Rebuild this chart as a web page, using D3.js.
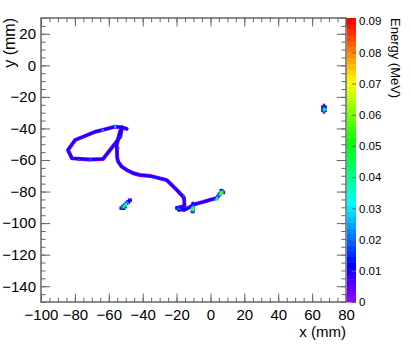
<!DOCTYPE html>
<html>
<head>
<meta charset="utf-8">
<script src="https://cdnjs.cloudflare.com/ajax/libs/d3/7.8.5/d3.min.js"></script>
<style>
  body { margin: 0; background: #fff; }
  svg { display: block; font-family: "Liberation Sans", Arial, Helvetica, sans-serif; }
</style>
</head>
<body>
<div id="plot"></div>
<script>
// Axis ticks
const xTicks = [-100, -80, -60, -40, -20, 0, 20, 40, 60, 80];
const yTicks = [-140, -120, -100, -80, -60, -40, -20, 0, 20];
const zTicks = [0, 0.01, 0.02, 0.03, 0.04, 0.05, 0.06, 0.07, 0.08, 0.09];
const zMax = 0.091;     // histogram maximum (MeV)
const nColors = 50;     // ROOT pretty palette

// Track path (mm)
const loopTrack = [
  [-49.4, -40.3], [-52.2, -39.3], [-56.2, -38.9], [-64.0, -41.0], [-68.0, -42.1],
  [-79.8, -47.3], [-84.1, -53.7], [-82.7, -56.8], [-81.7, -59.0], [-71.1, -59.7],
  [-63.4, -59.4], [-60.0, -54.7], [-56.1, -49.4], [-53.2, -45.2], [-52.2, -39.3]
];
const stemTrack = [
  [-52.2, -39.3], [-53.4, -42.2], [-54.4, -46.2], [-55.3, -50.5], [-55.0, -58.9],
  [-54.4, -61.1], [-52.4, -64.2], [-49.4, -66.3], [-45.5, -68.4], [-41.6, -69.5],
  [-35.7, -70.1], [-29.8, -71.6], [-25.8, -72.7], [-22.9, -75.8], [-19.9, -79.0],
  [-17.0, -82.2], [-15.6, -84.1], [-15.3, -89.1], [-19.7, -90.4], [-15.6, -91.7],
  [-12.1, -89.8], [-8.1, -87.6], [-4.2, -86.6], [-0.3, -85.3], [3.7, -84.1],
  [5.6, -81.5], [7.1, -80.0]
];
const branchTrack = [[-10.3, -87.5], [-10.3, -92.5]];
const trackEdgeE = 0.001;
const trackCoreE = 0.0095;

// Brighter bins [x, y, energy]
const hitCells = [
  // dots along the track
  [-63.6, -41.0, 0.025], [-56.2, -38.9, 0.028], [-77.8, -60.0, 0.02], [-70.9, -60.0, 0.02],
  [-53.2, -45.2, 0.018], [-54.4, -52.6, 0.02], [-15.6, -82.8, 0.02],
  // isolated blob
  [-48, -85, 0.004], [-47, -85, 0.003],
  [-49, -86, 0.006], [-48, -86, 0.012], [-47, -86, 0.006],
  [-50, -87, 0.015], [-49, -87, 0.025], [-48, -87, 0.012],
  [-51, -88, 0.02], [-50, -88, 0.035], [-49, -88, 0.02],
  [-52, -89, 0.015], [-51, -89, 0.05], [-50, -89, 0.03],
  [-53, -90, 0.006], [-52, -90, 0.025], [-51, -90, 0.045], [-50, -90, 0.012],
  [-53, -91, 0.004], [-52, -91, 0.01], [-51, -91, 0.012],
  // far right blob
  [67, -25, 0.005],
  [66, -26, 0.006], [67, -26, 0.012], [68, -26, 0.004],
  [66, -27, 0.01], [67, -27, 0.025], [68, -27, 0.012],
  [66, -28, 0.015], [67, -28, 0.045], [68, -28, 0.03],
  [66, -29, 0.006], [67, -29, 0.025], [68, -29, 0.01],
  [67, -30, 0.005],
  // track end
  [6, -79, 0.008], [7, -79, 0.015],
  [6, -80, 0.025], [7, -80, 0.045], [8, -80, 0.02],
  [5, -81, 0.02], [6, -81, 0.06], [7, -81, 0.055], [8, -81, 0.01],
  [5, -82, 0.025], [6, -82, 0.04],
  [4, -83, 0.02],
  [4, -84, 0.04], [3, -85, 0.025], [4, -85, 0.045],
  // small branch blob
  [-11, -89, 0.012], [-10, -89, 0.02],
  [-11, -90, 0.025], [-10, -90, 0.04],
  [-11, -91, 0.035], [-10, -91, 0.06],
  [-11, -92, 0.025], [-10, -92, 0.045],
  [-11, -93, 0.008], [-10, -93, 0.015],
  // foot
  [-20, -90, 0.012], [-19, -90, 0.015], [-18, -90, 0.01],
  [-20, -91, 0.015], [-19, -91, 0.02], [-18, -91, 0.018], [-17, -91, 0.014], [-16, -91, 0.012],
  [-19, -92, 0.01], [-18, -92, 0.012]
];

const W = 411, H = 357;
const frame = {left: 41, right: 346, top: 18, bottom: 302};

const svg = d3.select("#plot")
  .append("svg")
  .attr("width", W)
  .attr("height", H);

const x = d3.scaleLinear().domain([-100, 80]).range([frame.left, frame.right]);
const y = d3.scaleLinear().domain([-150, 30]).range([frame.bottom, frame.top]);
const z = d3.scaleLinear().domain([0, zMax]).range([frame.bottom, frame.top]);

// ROOT palette 1: hue 280 -> 0, full saturation
const palette = d3.range(nColors).map(i => d3.hsl(280 - (i + 1) * 280 / nColors, 1, 0.5).formatHex());
const color = e => palette[Math.max(0, Math.min(nColors - 1, Math.floor(e / zMax * nColors)))];

// Track
const line = d3.line().x(d => x(d[0])).y(d => y(d[1]));
const tracks = [loopTrack, stemTrack, branchTrack];
const plot = svg.append("g");

plot.selectAll("path.edge")
  .data(tracks)
  .join("path")
  .attr("class", "edge")
  .attr("d", line)
  .attr("fill", "none")
  .attr("stroke", color(trackEdgeE))
  .attr("stroke-width", 3.9)
  .attr("stroke-linejoin", "round")
  .attr("stroke-linecap", "round");

plot.selectAll("path.core")
  .data(tracks)
  .join("path")
  .attr("class", "core")
  .attr("d", line)
  .attr("fill", "none")
  .attr("stroke", color(trackCoreE))
  .attr("stroke-width", 2.6)
  .attr("stroke-linejoin", "round")
  .attr("stroke-linecap", "round");

// Bins, drawn low to high so the hot centres stay on top
const bw = x(1) - x(0), bh = y(0) - y(1);
plot.selectAll("rect.cell")
  .data(hitCells.slice().sort((a, b) => a[2] - b[2]))
  .join("rect")
  .attr("class", "cell")
  .attr("x", d => x(d[0]) - bw / 2 - 0.3)
  .attr("y", d => y(d[1]) - bh / 2 - 0.3)
  .attr("width", bw + 0.6)
  .attr("height", bh + 0.6)
  .attr("fill", d => color(d[2]));

// Frame + axes
const axisColor = "#666";
const fontSize = "15px";

function styleAxis(g) {
  g.select(".domain").remove();
  g.selectAll("line").attr("stroke", axisColor);
  g.selectAll("text").attr("fill", "#000").style("font-size", fontSize);
}

// major ticks with labels
svg.append("g")
  .attr("transform", `translate(0,${frame.bottom})`)
  .call(d3.axisBottom(x).tickValues(xTicks).tickSize(-8.5).tickPadding(7).tickSizeOuter(0))
  .call(styleAxis);
svg.append("g")
  .attr("transform", `translate(${frame.left},0)`)
  .call(d3.axisLeft(y).tickValues(yTicks).tickSize(-9.2).tickPadding(5).tickSizeOuter(0))
  .call(styleAxis);
// mirrored ticks
svg.append("g")
  .attr("transform", `translate(0,${frame.top})`)
  .call(d3.axisTop(x).tickValues(xTicks).tickSize(-8.5).tickFormat("").tickSizeOuter(0))
  .call(styleAxis);
svg.append("g")
  .attr("transform", `translate(${frame.right},0)`)
  .call(d3.axisRight(y).tickValues(yTicks).tickSize(-9.2).tickFormat("").tickSizeOuter(0))
  .call(styleAxis);
// minor ticks
const xMinor = d3.range(-100, 81, 5), yMinor = d3.range(-150, 31, 5);
svg.append("g").attr("transform", `translate(0,${frame.bottom})`)
  .call(d3.axisBottom(x).tickValues(xMinor).tickSize(-4.3).tickFormat("").tickSizeOuter(0)).call(styleAxis);
svg.append("g").attr("transform", `translate(0,${frame.top})`)
  .call(d3.axisTop(x).tickValues(xMinor).tickSize(-4.3).tickFormat("").tickSizeOuter(0)).call(styleAxis);
svg.append("g").attr("transform", `translate(${frame.left},0)`)
  .call(d3.axisLeft(y).tickValues(yMinor).tickSize(-4.6).tickFormat("").tickSizeOuter(0)).call(styleAxis);
svg.append("g").attr("transform", `translate(${frame.right},0)`)
  .call(d3.axisRight(y).tickValues(yMinor).tickSize(-4.6).tickFormat("").tickSizeOuter(0)).call(styleAxis);

svg.append("rect")
  .attr("x", frame.left)
  .attr("y", frame.top)
  .attr("width", frame.right - frame.left)
  .attr("height", frame.bottom - frame.top)
  .attr("fill", "none")
  .attr("stroke", axisColor)
  .attr("stroke-width", 1.5);

// Axis titles
svg.append("text")
  .attr("x", frame.right)
  .attr("y", 337)
  .attr("text-anchor", "end")
  .style("font-size", "15px")
  .text("x (mm)");

svg.append("text")
  .attr("transform", `translate(15,${frame.top}) rotate(-90)`)
  .attr("text-anchor", "end")
  .style("font-size", "16px")
  .text("y (mm)");

// Colour bar
const bar = {left: 347, right: 356};
const zStep = zMax / nColors;
svg.append("g")
  .selectAll("rect")
  .data(palette)
  .join("rect")
  .attr("x", bar.left)
  .attr("width", bar.right - bar.left)
  .attr("y", (d, i) => z((i + 1) * zStep))
  .attr("height", (d, i) => z(i * zStep) - z((i + 1) * zStep) + 0.5)
  .attr("fill", d => d);

svg.append("g")
  .attr("transform", `translate(${bar.right},0)`)
  .call(d3.axisRight(z).tickValues(zTicks).tickSize(-4).tickPadding(3).tickSizeOuter(0)
    .tickFormat(d => d === 0 ? "0" : d3.format(".2f")(d)))
  .call(g => {
    g.select(".domain").remove();
    g.selectAll("line").attr("stroke", axisColor);
    g.selectAll("text").style("font-size", "11.5px");
  });

svg.append("text")
  .attr("transform", `translate(391,${frame.top}) rotate(90)`)
  .attr("text-anchor", "start")
  .style("font-size", "13px")
  .text("Energy (MeV)");
</script>
</body>
</html>
